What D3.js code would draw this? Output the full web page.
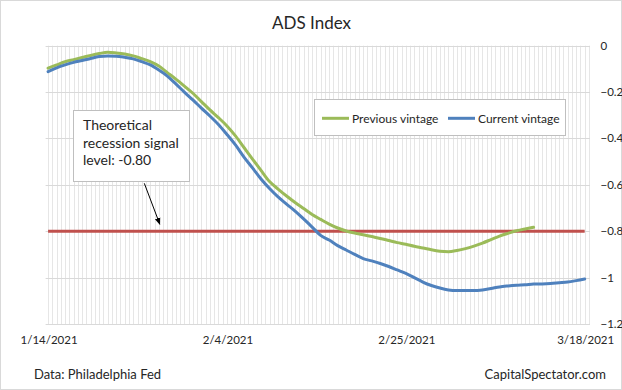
<!DOCTYPE html>
<html><head><meta charset="utf-8">
<script src="https://cdn.jsdelivr.net/npm/d3@7"></script>
<style>
html,body{margin:0;padding:0;background:#fff;}
svg text{font-family:Lato,"Open Sans",sans-serif;fill:#262626;}
</style></head>
<body>
<svg id="chart" width="622" height="390"></svg>
<script>
// ---- data ----
const startDate = "2021-01-14";
const endDate = "2021-03-18";
const tickLabels = ["1/14/2021","2/4/2021","2/25/2021","3/18/2021"];
const yTicks = [0,-0.2,-0.4,-0.6,-0.8,-1,-1.2];
const seriesNames = ["Previous vintage","Current vintage"];
const previousVintage = [
 -0.097,-0.083,-0.069,-0.060,-0.051,-0.042,-0.034,-0.028,-0.031,-0.036,
 -0.044,-0.056,-0.069,-0.088,-0.116,-0.144,-0.174,-0.205,-0.241,-0.277,
 -0.310,-0.346,-0.389,-0.439,-0.489,-0.538,-0.586,-0.618,-0.648,-0.676,
 -0.702,-0.728,-0.749,-0.769,-0.786,-0.799,-0.808,-0.815,-0.823,-0.831,
 -0.840,-0.849,-0.856,-0.865,-0.872,-0.880,-0.886,-0.888,-0.883,-0.875,
 -0.864,-0.851,-0.836,-0.821,-0.809,-0.798,-0.790,-0.783];
const currentVintage = [
 -0.112,-0.096,-0.083,-0.072,-0.064,-0.055,-0.047,-0.044,-0.045,-0.050,
 -0.057,-0.069,-0.083,-0.105,-0.131,-0.165,-0.200,-0.234,-0.269,-0.303,
 -0.340,-0.383,-0.428,-0.480,-0.527,-0.575,-0.616,-0.652,-0.683,-0.713,
 -0.747,-0.782,-0.818,-0.838,-0.862,-0.881,-0.900,-0.918,-0.928,-0.939,
 -0.952,-0.967,-0.982,-1.000,-1.019,-1.034,-1.045,-1.053,-1.056,-1.056,
 -1.056,-1.053,-1.047,-1.040,-1.036,-1.033,-1.031,-1.028,-1.027,-1.025,
 -1.022,-1.019,-1.013,-1.006];
const signalLevel = -0.8;
const annotationLines = ["Theoretical","recession signal","level: -0.80"];
const title = "ADS Index";
const sourceText = "Data: Philadelphia Fed";
const brandText = "CapitalSpectator.com";

// ---- layout ----
const parse = d3.timeParse("%Y-%m-%d");
const d0 = parse(startDate), d1 = parse(endDate);
const dates = d3.timeDay.range(d0, d3.timeDay.offset(d1,1));
const plot = {left:45.6, right:590, top:45.7, bottom:324};
const domStart = d3.timeHour.offset(d0,-7), domEnd = d3.timeHour.offset(d1,15);
const x = d3.scaleTime().domain([domStart, domEnd]).range([plot.left, plot.right]);
const y = d3.scaleLinear().domain([-1.2,0]).range([plot.bottom, plot.top]);

const svg = d3.select("#chart");
svg.append("rect").attr("x",0.5).attr("y",0.5).attr("width",621).attr("height",389)
  .attr("fill","#fff").attr("stroke","#d9d9d9");

// vertical gridlines every 12h
const vGrid = d3.timeHour.every(12).range(domStart, d3.timeHour.offset(domEnd,1));
svg.append("g").selectAll("line").data(vGrid).join("line")
  .attr("x1",d=>Math.round(x(d))+0.5).attr("x2",d=>Math.round(x(d))+0.5)
  .attr("y1",plot.top).attr("y2",plot.bottom)
  .attr("stroke","#e6e6e6").attr("stroke-width",1);
// horizontal gridlines
svg.append("g").selectAll("line").data(yTicks).join("line")
  .attr("x1",plot.left).attr("x2",plot.right)
  .attr("y1",d=>Math.round(y(d))+0.5).attr("y2",d=>Math.round(y(d))+0.5)
  .attr("stroke","#d9d9d9").attr("stroke-width",1);

// y labels (right)
const fmtY = d=> d===0 ? "0" : d3.format("")(+d.toFixed(1));
svg.append("g").selectAll("text").data(yTicks).join("text")
  .attr("x",600.5).attr("y",d=>y(d)+4).attr("font-size",11.5)
  .text(d=>fmtY(d));

// x labels
const tp = d3.timeParse("%m/%d/%Y");
svg.append("g").selectAll("text").data(tickLabels).join("text")
  .attr("x",d=>x(tp(d))+1).attr("y",343.5).attr("text-anchor","middle")
  .attr("font-size",11.5).text(d=>d);

// signal line
svg.append("line").attr("x1",x(dates[0])).attr("x2",x(dates[dates.length-1]))
  .attr("y1",y(signalLevel)).attr("y2",y(signalLevel))
  .attr("stroke","#c0504d").attr("stroke-width",3);

const line = d3.line().x((d,i)=>x(dates[i])).y(d=>y(d)).curve(d3.curveMonotoneX);
svg.append("path").attr("d",line(previousVintage)).attr("fill","none")
  .attr("stroke","#9bbb59").attr("stroke-width",3).attr("stroke-linecap","round");
svg.append("path").attr("d",line(currentVintage)).attr("fill","none")
  .attr("stroke","#4f81bd").attr("stroke-width",3).attr("stroke-linecap","round");

// title
svg.append("text").attr("x",311.5).attr("y",29).attr("text-anchor","middle")
  .attr("font-size",17).text(title);

// legend
const lg = svg.append("g");
lg.append("rect").attr("x",314.5).attr("y",99.5).attr("width",251).attr("height",36)
  .attr("fill","#fff").attr("stroke","#bfbfbf");
const legendColors = ["#9bbb59","#4f81bd"];
const legendX = [322,448];
seriesNames.forEach((n,i)=>{
  lg.append("line").attr("x1",legendX[i]).attr("x2",legendX[i]+27).attr("y1",118.3).attr("y2",118.3)
    .attr("stroke",legendColors[i]).attr("stroke-width",3);
  lg.append("text").attr("x",legendX[i]+30).attr("y",122.5).attr("font-size",12).text(n);
});

// annotation
const ag = svg.append("g");
ag.append("rect").attr("x",73.5).attr("y",110.5).attr("width",116).attr("height",71)
  .attr("fill","#fff").attr("stroke","#bfbfbf");
annotationLines.forEach((t,i)=>{
  ag.append("text").attr("x",83).attr("y",130+i*17.5).attr("font-size",14).text(t);
});
svg.append("defs").append("marker").attr("id","arr").attr("viewBox","0 0 10 10")
  .attr("refX",9).attr("refY",5).attr("markerWidth",7).attr("markerHeight",7)
  .attr("orient","auto").attr("markerUnits","userSpaceOnUse")
  .append("path").attr("d","M0,1 L10,5 L0,9 Z").attr("fill","#000");
ag.append("line").attr("x1",144.3).attr("y1",183.3)
  .attr("x2",x(d3.timeDay.offset(d0,13))+1).attr("y2",y(signalLevel)-7)
  .attr("stroke","#000").attr("stroke-width",1).attr("marker-end","url(#arr)");

// footer
svg.append("text").attr("x",34).attr("y",379).attr("font-size",13).text(sourceText);
svg.append("text").attr("x",606).attr("y",379).attr("text-anchor","end").attr("font-size",13).text(brandText);
</script>
</body></html>
